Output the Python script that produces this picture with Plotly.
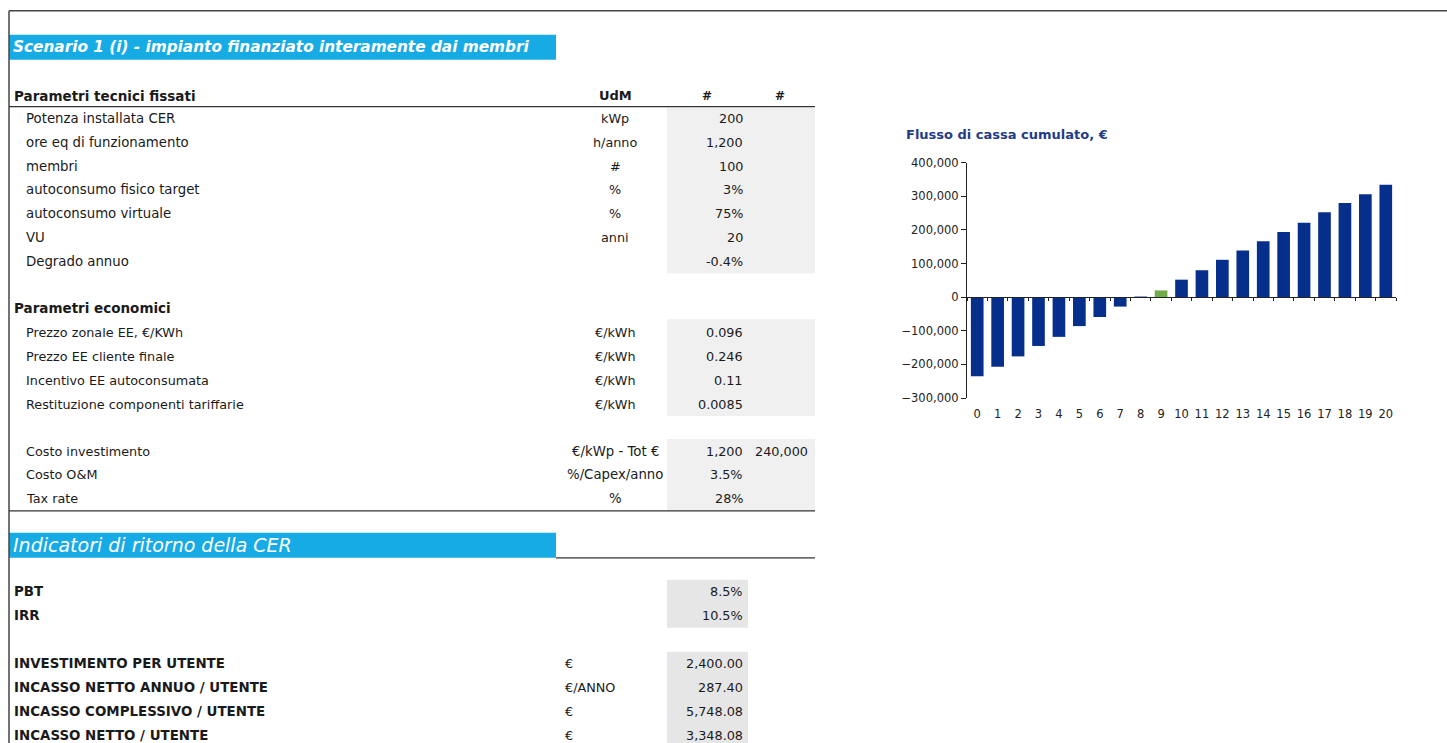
import plotly.graph_objects as go

W, H = 1447, 743

# --- data ---
tech_labels = ['Potenza installata CER', 'ore eq di funzionamento', 'membri', 'autoconsumo fisico target',
               'autoconsumo virtuale', 'VU', 'Degrado annuo']
tech_units = ['kWp', 'h/anno', '#', '%', '%', 'anni', '']
tech_values = ['200', '1,200', '100', '3%', '75%', '20', '-0.4%']

econ_labels = ['Prezzo zonale EE, €/KWh', 'Prezzo EE cliente finale', 'Incentivo EE autoconsumata',
               'Restituzione componenti tariffarie']
econ_units = ['€/kWh', '€/kWh', '€/kWh', '€/kWh']
econ_values = ['0.096', '0.246', '0.11', '0.0085']

cost_labels = ['Costo investimento', 'Costo O&M', 'Tax rate']
cost_units = ['€/kWp - Tot €', '%/Capex/anno', '%']
cost_values = ['1,200', '3.5%', '28%']
cost_extra = ['240,000', '', '']

ind_labels = ['PBT', 'IRR']
ind_values = ['8.5%', '10.5%']

user_labels = ['INVESTIMENTO PER UTENTE', 'INCASSO NETTO ANNUO / UTENTE', 'INCASSO COMPLESSIVO / UTENTE',
               'INCASSO NETTO / UTENTE']
user_units = ['€', '€/ANNO', '€', '€']
user_values = ['2,400.00', '287.40', '5,748.08', '3,348.08']

years = list(range(21))
cum_cashflow = [-235000, -207000, -176000, -145000, -118000, -86000, -59000, -28000, -300,
                20000, 52000, 80000, 111000, 139000, 166000, 194000, 221000, 252000, 280000, 306000, 334000]

NAVY = '#062f8c'
GREEN = '#72a94b'
BAND = '#17abe6'
FONT = 'DejaVu Sans, Verdana, sans-serif'

payback = next(i for i, v in enumerate(cum_cashflow) if v > 0)
bar_colors = [GREEN if i == payback else NAVY for i in years]

# the captured page comes out slightly squeezed vertically; compensate
Y_SCALE, Y_OFF = 0.983, 5.15


def px(x):
    return x / W


def py(y):
    return 1 - (y - Y_OFF) / Y_SCALE / H


shapes = []
annotations = []


def rect(x0, y0, x1, y1, color):
    shapes.append(dict(type='rect', xref='paper', yref='paper', x0=px(x0), x1=px(x1), y0=py(y1), y1=py(y0),
                       fillcolor=color, line_width=0, layer='below'))


def hline(x0, x1, y, color='#333333', width=1.3):
    shapes.append(dict(type='line', xref='paper', yref='paper', x0=px(x0), x1=px(x1), y0=py(y), y1=py(y),
                       line=dict(color=color, width=width)))


def text(x, y, s, anchor='left', size=12, color='#1a1a1a'):
    annotations.append(dict(xref='paper', yref='paper', x=px(x), y=py(y), text=s, showarrow=False,
                            xanchor=anchor, yanchor='middle', font=dict(family=FONT, size=size, color=color)))


BODY = 12.8

# page borders
shapes.append(dict(type='line', xref='paper', yref='paper', x0=px(9), x1=1, y0=py(9), y1=py(9),
                   line=dict(color='#444444', width=1.5)))
shapes.append(dict(type='line', xref='paper', yref='paper', x0=px(9), x1=px(9), y0=py(9), y1=-0.05,
                   line=dict(color='#444444', width=1.5)))

# scenario band
rect(9, 33, 556, 58, BAND)
text(11, 45.5, '<b><i>Scenario 1 (i) - impianto finanziato interamente dai membri</i></b>', size=15.3, color='white')

# technical parameters
text(12, 94, '<b>Parametri tecnici fissati</b>', size=13.5)
text(615, 94, '<b>UdM</b>', anchor='center', size=13)
text(707, 94, '<b>#</b>', anchor='center', size=12)
text(780, 94, '<b>#</b>', anchor='center', size=12)
hline(9, 815, 105)
rect(667, 106, 815, 272, '#f0f0f0')
for i, (lab, unit, val) in enumerate(zip(tech_labels, tech_units, tech_values)):
    y = 117 + i * 23.8
    text(24, y, lab, size=13.3)
    text(615, y, unit, anchor='center', size=BODY)
    text(745, y, val, anchor='right', size=BODY)

# economic parameters
text(12, 307, '<b>Parametri economici</b>', size=13.5)
rect(667, 318, 815, 415, '#f0f0f0')
for i, (lab, unit, val) in enumerate(zip(econ_labels, econ_units, econ_values)):
    y = 331 + i * 24
    text(24, y, lab, size=BODY)
    text(615, y, unit, anchor='center', size=BODY)
    text(745, y, val, anchor='right', size=BODY)

rect(667, 438, 815, 510, '#f0f0f0')
for i, (lab, unit, val, ext) in enumerate(zip(cost_labels, cost_units, cost_values, cost_extra)):
    y = 450 + i * 24
    text(24, y, lab, size=BODY)
    text(615, y, unit, anchor='center', size=13.3)
    text(745, y, val, anchor='right', size=BODY)
    if ext:
        text(810, y, ext, anchor='right', size=BODY)
hline(9, 815, 510)

# indicators band
rect(9, 532, 556, 557, BAND)
text(11, 544.5, '<i>Indicatori di ritorno della CER</i>', size=19, color='white')
hline(556, 815, 557)

rect(667, 579, 748, 627, '#e6e6e6')
for i, (lab, val) in enumerate(zip(ind_labels, ind_values)):
    y = 591 + i * 24
    text(12, y, '<b>' + lab + '</b>', size=13.4)
    text(745, y, val, anchor='right', size=BODY)

rect(667, 651, 748, 760, '#e6e6e6')
for i, (lab, unit, val) in enumerate(zip(user_labels, user_units, user_values)):
    y = 663 + i * 24
    text(12, y, '<b>' + lab + '</b>', size=13.4)
    text(563, y, unit, size=BODY)
    text(745, y, val, anchor='right', size=BODY)

# chart title
text(904, 133, '<b>Flusso di cassa cumulato, €</b>', size=13, color='#1f3c88')

x_dom = [px(967), px(1396)]
y_dom = [py(397), py(161)]
ymin, ymax = -300000, 400000
zero_pos = y_dom[0] + (0 - ymin) / (ymax - ymin) * (y_dom[1] - y_dom[0])

fig = go.Figure()
fig.add_trace(go.Bar(x=years, y=cum_cashflow, marker=dict(color=bar_colors, line_width=0), showlegend=False))
# invisible trace to carry the zero-line axis with boundary ticks
fig.add_trace(go.Scatter(x=years, y=[0] * len(years), xaxis='x2', mode='none', showlegend=False,
                         hoverinfo='skip'))

fig.update_layout(
    width=W, height=H,
    margin=dict(l=0, r=0, t=0, b=0),
    paper_bgcolor='white', plot_bgcolor='white',
    bargap=0.38,
    shapes=shapes, annotations=annotations,
    xaxis=dict(domain=x_dom, range=[-0.5, 20.5], type='category', tickmode='array', tickvals=years,
               ticktext=[str(y) for y in years], showline=False, showgrid=False, zeroline=False,
               ticks='', ticklabelstandoff=7, tickfont=dict(family=FONT, size=11.5, color='#222222'),
               anchor='y'),
    xaxis2=dict(domain=x_dom, range=[-0.5, 20.5], type='category', overlaying='x', anchor='free',
                position=zero_pos, showline=True, linecolor='#222222', linewidth=1.2, ticks='outside',
                tickson='boundaries', ticklen=3, tickcolor='#222222', showticklabels=False, showgrid=False,
                zeroline=False),
    yaxis=dict(domain=y_dom, range=[ymin, ymax], tickvals=list(range(ymin, ymax + 1, 100000)),
               tickformat=',d', showline=True, linecolor='#222222', linewidth=1.2, ticks='outside',
               ticklen=5, tickcolor='#222222', showgrid=False, zeroline=False,
               tickfont=dict(family=FONT, size=11.5, color='#222222'), anchor='x'),
)

fig.write_html('out.html', config={'displayModeBar': False},
               post_script="document.body.style.margin='0';")
